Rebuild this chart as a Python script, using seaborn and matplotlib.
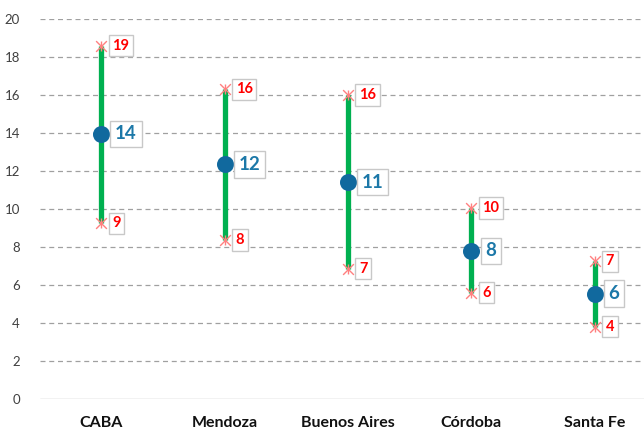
import numpy as np
import pandas as pd
import matplotlib
matplotlib.use("Agg")
import matplotlib.pyplot as plt
import seaborn as sns

categories = ["CABA", "Mendoza", "Buenos Aires", "Córdoba", "Santa Fe"]
high_vals = [18.6, 16.3, 16.0, 10.05, 7.25]
mean_vals = [13.95, 12.35, 11.42, 7.8, 5.55]
low_vals = [9.25, 8.37, 6.85, 5.6, 3.8]
yticks = [0, 2, 4, 6, 8, 10, 12, 14, 16, 18, 20]

sns.set_theme(style="white")
plt.rcParams["font.family"] = ["Lato", "DejaVu Sans"]

df = pd.DataFrame({"cat": categories, "mean": mean_vals, "low": low_vals, "high": high_vals})

fig = plt.figure(figsize=(6.44, 4.30), dpi=100)
ax = fig.add_axes([39.5 / 644, 31 / 430, (644 - 39.5) / 644, 380 / 430])

pos = np.arange(len(categories))
# green range lines
ax.vlines(pos, df["low"], df["high"], color="#00B050", linewidth=3.8, zorder=3)

# high / low markers
for col in ["high", "low"]:
    sns.scatterplot(x=pos, y=df[col], marker="x", s=60, color="#FF8080",
                    linewidth=1.0, ax=ax, zorder=4)
    sns.scatterplot(x=pos, y=df[col], marker="|", s=60, color="#FF8080",
                    linewidth=1.0, ax=ax, zorder=4)

# mean points
sns.scatterplot(x=pos, y=df["mean"], s=150, color="#11699E", edgecolor="#11699E",
                linewidth=0, ax=ax, zorder=5)

box_red = dict(boxstyle="square,pad=0.25", fc="white", ec="#C8C8C8", lw=1.0)
box_blue = dict(boxstyle="square,pad=0.25", fc="white", ec="#C8C8C8", lw=1.0)
for i in range(len(categories)):
    for col in ["high", "low"]:
        v = df[col][i]
        ax.annotate(f"{round(v):d}", (pos[i], v), xytext=(11, 0), textcoords="offset pixels",
                    ha="left", va="center", fontsize=10.5, fontweight="bold", color="#FF0000",
                    bbox=box_red, zorder=6)
    v = df["mean"][i]
    ax.annotate(f"{round(v):d}", (pos[i], v), xytext=(14, 0), textcoords="offset pixels",
                ha="left", va="center", fontsize=13.5, fontweight="bold", color="#1C78A8",
                bbox=box_blue, zorder=6)

ax.set_xlim(-0.5, 4.4)
ax.set_ylim(0, 20)
ax.set_yticks(yticks)
ax.set_yticklabels([str(t) for t in yticks], fontsize=9.5, color="#404040")
ax.set_xticks(pos)
ax.set_xticklabels(categories, fontsize=11.5, fontweight="bold", color="#111111")
ax.tick_params(axis="both", length=0)
ax.tick_params(axis="x", pad=12)
ax.tick_params(axis="y", pad=14)
for t in yticks[1:]:
    ax.axhline(t, color="#A0A0A0", linestyle=(0, (4, 3)), linewidth=0.9, zorder=1)
ax.axhline(0, color="#C0C0C0", linewidth=1.0, zorder=1)
for s in ax.spines.values():
    s.set_visible(False)
ax.set_xlabel("")
ax.set_ylabel("")
ax.grid(False)

fig.savefig("out.png", dpi=100)
